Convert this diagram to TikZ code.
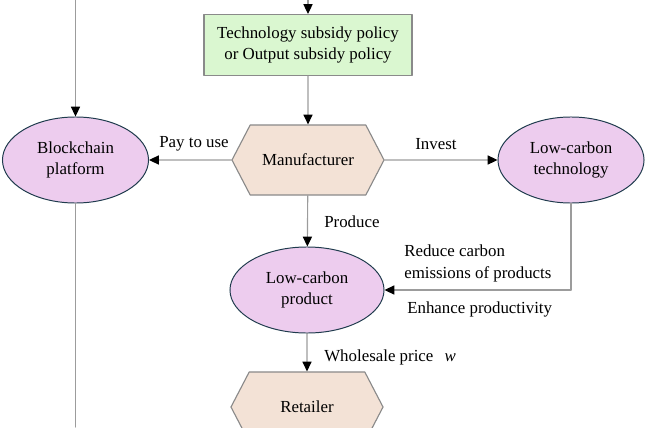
\documentclass[tikz,border=0pt]{standalone}
\usepackage{fontspec}
\setmainfont{Liberation Serif}
\usetikzlibrary{arrows.meta,shapes.geometric,shapes.symbols}
\definecolor{linegray}{HTML}{9C9C9C}
\definecolor{edgegray}{HTML}{8A8A8A}
\definecolor{ovaledge}{HTML}{1F3B4D}
\definecolor{ovalfill}{HTML}{EDCCEE}
\definecolor{hexfill}{HTML}{F3E2D6}
\definecolor{policyfill}{HTML}{DAF7D0}
\tikzset{
    oval/.style={ellipse, draw=ovaledge, fill=ovalfill, line width=0.7pt, align=center, minimum width=3.65cm, minimum height=2.15cm, inner sep=0pt},
    hexbox/.style={signal, signal to=east and west, signal pointer angle=125, draw=edgegray, fill=hexfill, line width=0.8pt, minimum width=3.8cm, minimum height=1.75cm, inner sep=0pt},
    policybox/.style={rectangle, draw=edgegray, fill=policyfill, line width=0.8pt, align=center, minimum width=5.2cm, minimum height=1.52cm, inner sep=0pt},
    link/.style={draw=linegray, line width=0.8pt, -{Triangle[length=7pt,width=6.5pt,black]}},
    plainlink/.style={draw=linegray, line width=0.8pt},
    tag/.style={inner sep=0pt, anchor=west, align=left}
}
\begin{document}
\begin{tikzpicture}[line cap=round, line join=round, x=0.025cm, y=-0.025cm, font=\fontsize{12}{15}\selectfont]

    \useasboundingbox (0,0) rectangle (650,427);

    \coordinate (topPolicy) at (308,0);
    \coordinate (topChain) at (75.5,0);
    \coordinate (bottomChain) at (75.5,427);
    \coordinate (techCorner) at (571,290);

    \node[policybox] (policy) at (308,45) {Technology subsidy policy\\or Output subsidy policy};
    \node[hexbox] (manufacturer) at (308,160) {Manufacturer};
    \node[oval] (chain) at (75.5,160) {Blockchain\\platform};
    \node[oval] (tech) at (571,160) {Low-carbon\\technology};
    \node[oval, minimum width=3.85cm] (product) at (307,290) {Low-carbon\\product};
    \node[hexbox] (retailer) at (307,407) {Retailer};

    \draw[link] (topPolicy) -- (policy);
    \draw[link] (topChain) -- (chain);
    \draw[plainlink] (chain) -- (bottomChain);
    \draw[link] (policy) -- (manufacturer);
    \draw[link] (manufacturer) -- (chain);
    \draw[link] (manufacturer) -- (tech);
    \draw[link] (manufacturer) -- (product);
    \draw[plainlink] (tech) -- (techCorner);
    \draw[link] (techCorner) -- (product);
    \draw[link] (product) -- (retailer);

    \node[tag] (payLabel) at (159,144) {Pay to use};
    \node[tag] (investLabel) at (415,144) {Invest};
    \node[tag] (produceLabel) at (324,222) {Produce};
    \node[tag] (reduceLabel) at (404,251) {Reduce carbon};
    \node[tag] (emissionLabel) at (404,274) {emissions of products};
    \node[tag] (enhanceLabel) at (407,309) {Enhance productivity};
    \node[tag] (priceLabel) at (324,357) {Wholesale price\hspace{0.66em}\textit{w}};

\end{tikzpicture}
\end{document}
